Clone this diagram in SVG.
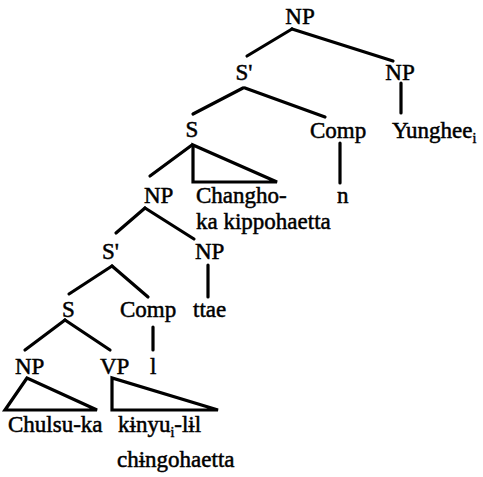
<svg xmlns="http://www.w3.org/2000/svg" width="483" height="477" viewBox="0 0 483 477">
<style>
text{font-family:"Liberation Serif","Times New Roman",serif;font-size:23px;fill:#000;stroke:#000;stroke-width:0.5}
.m{text-anchor:middle}
.sub{font-size:14px}
#connectors line,#connectors polygon{stroke:#000;stroke-width:3.2;fill:none;stroke-linecap:round;stroke-linejoin:miter}
</style>
<rect width="483" height="477" fill="#fff"/>
<g id="connectors">
<line x1="292" y1="29" x2="247" y2="56"/>
<line x1="292" y1="29" x2="393" y2="61"/>
<line x1="401" y1="83" x2="401" y2="113"/>
<line x1="243" y1="88" x2="193" y2="114"/>
<line x1="245" y1="88" x2="325" y2="117"/>
<line x1="340" y1="143" x2="340" y2="183"/>
<line x1="192" y1="145" x2="150" y2="176"/>
<polygon points="193,145 193,182 277,182"/>
<line x1="145" y1="208" x2="116" y2="233"/>
<line x1="145" y1="208" x2="194" y2="239"/>
<line x1="208" y1="265" x2="208" y2="297"/>
<line x1="112" y1="266" x2="69" y2="294"/>
<line x1="112" y1="266" x2="148" y2="297"/>
<line x1="65" y1="320" x2="25" y2="350"/>
<line x1="65" y1="320" x2="110" y2="350"/>
<line x1="153" y1="327" x2="153" y2="350"/>
<polygon points="27,378 5,410 97,410"/>
<polygon points="112,378 112,410 218,410"/>
</g>
<g id="n-np-top"><text class="m" x="300" y="24">NP</text></g>
<g id="n-sbar-1"><text class="m" x="244" y="80">S'</text></g>
<g id="n-np-right"><text class="m" x="400" y="80">NP</text></g>
<g id="n-s-1"><text class="m" x="192" y="137">S</text></g>
<g id="n-comp-1"><text x="310" y="138">Comp</text></g>
<g id="n-yunghee"><text x="392" y="138">Yunghee<tspan class="sub" dy="5">i</tspan></text></g>
<g id="n-np-2"><text x="144" y="203">NP</text></g>
<g id="n-changho"><text x="196" y="203">Changho-</text><text x="196" y="229">ka kippohaetta</text></g>
<g id="n-n"><text x="337" y="203">n</text></g>
<g id="n-sbar-2"><text x="102" y="259">S'</text></g>
<g id="n-np-3"><text x="195" y="259">NP</text></g>
<g id="n-s-2"><text x="62" y="317">S</text></g>
<g id="n-comp-2"><text x="120" y="317">Comp</text></g>
<g id="n-ttae"><text x="193" y="317">ttae</text></g>
<g id="n-np-4"><text x="15" y="374">NP</text></g>
<g id="n-vp"><text x="100" y="374">VP</text></g>
<g id="n-l"><text x="150" y="374">l</text></g>
<g id="n-chulsu"><text x="8" y="432">Chulsu-ka</text></g>
<g id="n-kinyu"><text x="118" y="432">kɨnyu<tspan class="sub" dy="5">i</tspan><tspan dy="-5">-lɨl</tspan></text><text x="117" y="467">chɨngohaetta</text></g>
</svg>
